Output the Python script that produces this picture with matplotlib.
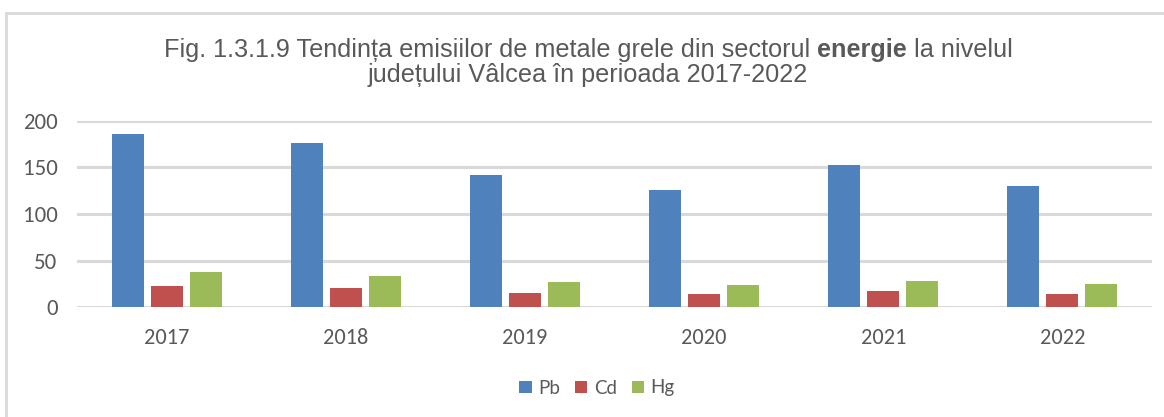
import matplotlib
matplotlib.use("Agg")
import matplotlib.pyplot as plt
import numpy as np

years = ["2017", "2018", "2019", "2020", "2021", "2022"]
pb = [186, 176, 142, 126, 152, 130]
cd = [23, 21, 15, 14, 17.5, 14.5]
hg = [38, 33.5, 27, 24, 28, 25]
series_names = ["Pb", "Cd", "Hg"]
colors = ["#4F81BD", "#C0504D", "#9BBB59"]
yticks = [0, 50, 100, 150, 200]

W, H = 1164, 417
fig = plt.figure(figsize=(W / 100, H / 100), dpi=100)
fig.patch.set_facecolor("white")

# outer frame (left & top visible)
fig.add_artist(plt.Line2D([5.5 / W, 5.5 / W], [0, 1 - 12.5 / H], transform=fig.transFigure,
                          color="#d9d9d9", lw=2))
fig.add_artist(plt.Line2D([5.5 / W, 1], [1 - 12.5 / H, 1 - 12.5 / H], transform=fig.transFigure,
                          color="#d9d9d9", lw=2))

left, right = 77 / W, 1152 / W
bottom = 1 - 307.3 / H
top = 1 - 120.7 / H
ax = fig.add_axes([left, bottom, right - left, top - bottom])

x = np.arange(len(years))
bw = 32 / 179.2
off = 39 / 179.2
for i, (vals, c, n) in enumerate(zip([pb, cd, hg], colors, series_names)):
    ax.bar(x + (i - 1) * off, vals, width=bw, color=c, label=n, zorder=3)

ax.set_xlim(-0.5, len(years) - 0.5)
ax.set_ylim(0, 200)
ax.set_yticks(yticks)
ax.set_yticklabels([str(v) for v in yticks])
ax.set_xticks(x)
ax.set_xticklabels(years)
ax.yaxis.grid(True, color="#d9d9d9", lw=2.2, zorder=0)
ax.set_axisbelow(True)
for s in ["top", "right", "left", "bottom"]:
    ax.spines[s].set_visible(False)
ax.tick_params(length=0)
ax.tick_params(axis="y", pad=14, labelsize=16.5, labelcolor="#595959")
ax.tick_params(axis="x", pad=15, labelsize=16, labelcolor="#595959")
for lab in ax.get_xticklabels() + ax.get_yticklabels():
    lab.set_family(["Carlito", "Lato", "DejaVu Sans"])

leg = fig.legend(loc="center", bbox_to_anchor=(597 / W, 1 - 388 / H), ncol=3, frameon=False,
                 handlelength=0.65, handleheight=0.65, handletextpad=0.35, columnspacing=0.8,
                 prop={"family": ["Lato", "DejaVu Sans"], "size": 13.5})
for t in leg.get_texts():
    t.set_color("#595959")

# title with bold segment
fig.canvas.draw()
renderer = fig.canvas.get_renderer()
tcol = "#595959"
fs = 14.5
fam = "Liberation Sans"
parts1 = [("Fig. 1.3.1.9 Tendința emisiilor de metale grele din sectorul ", "normal"),
          ("energie", "bold"), (" la nivelul", "normal")]
line2 = "județului Vâlcea în perioada 2017-2022"

def width_of(s, w):
    t = fig.text(0, 0, s, fontsize=fs, family=fam, weight=w)
    bb = t.get_window_extent(renderer)
    t.remove()
    return bb.width

target = 851.0
total = sum(width_of(s, w) for s, w in parts1)
fs = fs * target / total
total = sum(width_of(s, w) for s, w in parts1)
xs = 588 - total / 2
y1 = 1 - 50 / H
for s, w in parts1:
    fig.text(xs / W, y1, s, fontsize=fs, family=fam, weight=w, color=tcol, va="center", ha="left")
    xs += width_of(s, w)
fig.text(588 / W, 1 - 75 / H, line2, fontsize=fs, family=fam, color=tcol, va="center", ha="center")

fig.savefig("out.png", dpi=100, facecolor="white")
